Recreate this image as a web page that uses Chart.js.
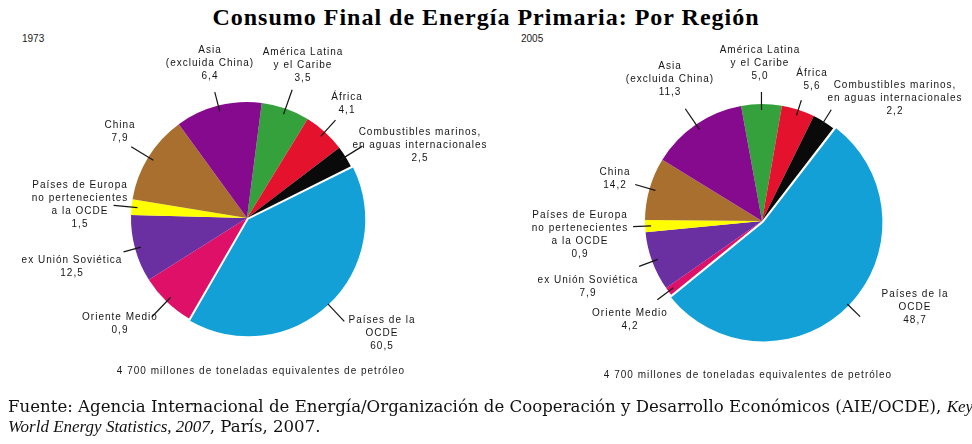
<!DOCTYPE html>
<html lang="es">
<head>
<meta charset="utf-8">
<title>Consumo Final de Energía Primaria: Por Región</title>
<script src="https://cdn.jsdelivr.net/npm/chart.js@4.4.1/dist/chart.umd.min.js"></script>
<style>
    html, body { margin: 0; padding: 0; background: #fff; }
    #lienzo { position: relative; width: 972px; height: 444px; overflow: hidden; }
    .pie { position: absolute; top: 0; }
    #titulo {
        position: absolute; left: 0; top: 4px; width: 972px; text-align: center;
        font: bold 24px "Liberation Serif", "Times New Roman", serif; letter-spacing: 1px; color: #000;
    }
    .anio, .total {
        position: absolute; font: 10px "Liberation Sans", Arial, sans-serif; color: #1a1a1a;
    }
    .total { width: 486px; text-align: center; top: 365px; letter-spacing: 1px; }
    #fuente {
        position: absolute; left: 8px; top: 397px; white-space: nowrap;
        font: 16.6px "DejaVu Serif", serif; line-height: 19px; color: #111;
    }
    #fuente i { font: italic 17px "Liberation Serif", serif; }
</style>
</head>
<body>
<div id="lienzo">
    <div id="titulo">Consumo Final de Energía Primaria: Por Región</div>
    <div class="anio" style="left:22px; top:33px;">1973</div>
    <div class="anio" style="left:521px; top:33px;">2005</div>
    <canvas id="pie1973" class="pie" width="486" height="444" style="left:0;"></canvas>
    <canvas id="pie2005" class="pie" width="486" height="444" style="left:486px;"></canvas>
    <div class="total" style="left:18px;">4 700 millones de toneladas equivalentes de petróleo</div>
    <div class="total" style="left:505px; top:369px;">4 700 millones de toneladas equivalentes de petróleo</div>
    <div id="fuente">Fuente: Agencia Internacional de Energía/Organización de Cooperación y Desarrollo Económicos (AIE/OCDE), <i>Key</i><br><i>World Energy Statistics, 2007</i>, París, 2007.</div>
</div>

<script>
// Regiones en el orden en que aparecen, en el sentido de las agujas del reloj
const regiones = [
    ['América Latina', 'y el Caribe'],
    ['África'],
    ['Combustibles marinos,', 'en aguas internacionales'],
    ['Países de la', 'OCDE'],
    ['Oriente Medio'],
    ['ex Unión Soviética'],
    ['Países de Europa', 'no pertenecientes', 'a la OCDE'],
    ['China'],
    ['Asia', '(excluida China)']
];
const colores = ['#34a13c', '#e5122e', '#0a0a0a', '#12a0d6', '#df1068', '#6a2fa0', '#ffff00', '#a86f2e', '#860a8e'];

// Tamaño de cada sector tal como está dibujado en la figura (grados)
const sectores1973 = [24.2, 21.2, 10.8, 146.5, 27.8, 33.7, 7.8, 44.7, 43.3];
const sectores2005 = [20.1, 16.5, 11.2, 193.5, 4.0, 29.5, 6.0, 31.1, 48.1];

// Cifras impresas en las etiquetas (%)
const cifras1973 = ['3,5', '4,1', '2,5', '60,5', '0,9', '12,5', '1,5', '7,9', '6,4'];
const cifras2005 = ['5,0', '5,6', '2,2', '48,7', '4,2', '7,9', '0,9', '14,2', '11,3'];

// Posición de las etiquetas respecto al centro de cada torta y largo de las guías
const textos1973 = [[56, -166], [100, -121], [173, -86], [135, 102], [-127, 99], [-175, 42], [-167, -33], [-127, -93], [-37, -168]];
const guias1973 = [20, 16, 20, 18, 21, 12, 18, 20, 14];
const textos2005 = [[-2, -171], [50, -148], [133, -136], [153, 73], [-132, 92], [-174, 59], [-182, -6], [-147, -49], [-92, -155]];
const guias2005 = [12, 10, 14, 12, 14, 14, 12, 15, 19];

// Dibuja las etiquetas con su línea guía
function crearEtiquetas(cifras, textos, guias) {
    return {
        id: 'etiquetas',
        afterDatasetsDraw(chart) {
            const ctx = chart.ctx;
            const meta = chart.getDatasetMeta(0);
            ctx.save();
            ctx.font = '10px "Liberation Sans", Arial, sans-serif';
            ctx.letterSpacing = '1px';
            ctx.fillStyle = '#151515';
            ctx.strokeStyle = '#151515';
            ctx.lineWidth = 1.2;
            ctx.textAlign = 'center';
            ctx.textBaseline = 'middle';
            meta.data.forEach((arc, i) => {
                const p = arc.getProps(['x', 'y', 'startAngle', 'endAngle', 'outerRadius'], true);
                const medio = (p.startAngle + p.endAngle) / 2;
                const desplaz = arc.options.offset || 0;
                const cx = p.x + Math.cos(medio) * desplaz;
                const cy = p.y + Math.sin(medio) * desplaz;
                const r0 = p.outerRadius - 6;
                const r1 = p.outerRadius + guias[i];
                ctx.beginPath();
                ctx.moveTo(cx + Math.cos(medio) * r0, cy + Math.sin(medio) * r0);
                ctx.lineTo(cx + Math.cos(medio) * r1, cy + Math.sin(medio) * r1);
                ctx.stroke();

                const lineas = chart.data.labels[i].concat(cifras[i]);
                lineas.forEach((t, k) => {
                    ctx.fillText(t, p.x + textos[i][0], p.y + textos[i][1] + k * 13);
                });
            });
            ctx.restore();
        }
    };
}

function crearTorta(id, sectores, cifras, textos, guias, giro, radio, relleno) {
    const ctx = document.getElementById(id).getContext('2d');
    return new Chart(ctx, {
        type: 'pie',
        data: {
            labels: regiones,
            datasets: [{
                data: sectores,
                backgroundColor: colores,
                borderWidth: 0,
                offset: [0, 0, 0, 8, 0, 0, 0, 0, 0],
                radius: radio
            }]
        },
        options: {
            responsive: false,
            animation: false,
            rotation: giro,
            layout: { padding: relleno },
            plugins: {
                legend: { display: false },
                tooltip: { enabled: false }
            }
        },
        plugins: [crearEtiquetas(cifras, textos, guias)]
    });
}

crearTorta('pie1973', sectores1973, cifras1973, textos1973, guias1973, 7.3, 116, { left: 8, right: 0, top: 0, bottom: 8 });
crearTorta('pie2005', sectores2005, cifras2005, textos2005, guias2005, -10.3, 117, { left: 66, right: 0, top: 0, bottom: 2 });
</script>
</body>
</html>
